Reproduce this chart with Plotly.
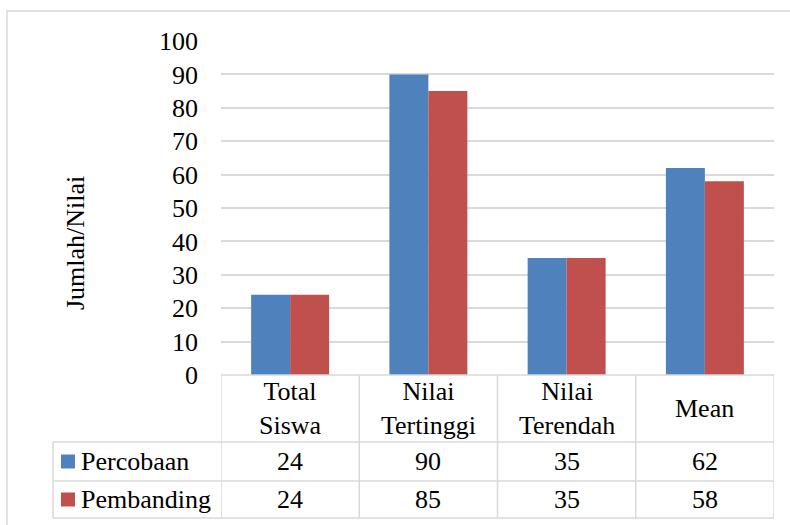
import plotly.graph_objects as go

categories = ["Total Siswa", "Nilai Tertinggi", "Nilai Terendah", "Mean"]
header_labels = ["Total<br>Siswa", "Nilai<br>Tertinggi", "Nilai<br>Terendah", "Mean"]
series_names = ["Percobaan", "Pembanding"]
percobaan = [24, 90, 35, 62]
pembanding = [24, 85, 35, 58]
y_ticks = [0, 10, 20, 30, 40, 50, 60, 70, 80, 90, 100]
colors = ["#4F81BD", "#C0504D"]

W, H = 790, 525
FONT = "Liberation Serif, Times New Roman, serif"
GRID = "#D9D9D9"

def px(p):
    return p / W

def py(p):
    return 1 - p / H

x_left, x_right = 221, 774
y_top, y_zero = 41, 375
row1_top, row2_top, table_bottom = 442, 481, 518
legend_left = 53

fig = go.Figure()
for name, vals, col in zip(series_names, [percobaan, pembanding], colors):
    fig.add_trace(go.Bar(x=categories, y=vals, name=name, marker_color=col,
                         marker_line_width=0, showlegend=False))

fig.update_layout(
    template="none",
    width=W, height=H,
    margin=dict(l=0, r=0, t=0, b=0, pad=0, autoexpand=False),
    paper_bgcolor="white", plot_bgcolor="white",
    barmode="group", bargap=0.436, bargroupgap=0,
    font=dict(family=FONT, size=26, color="black"),
    xaxis=dict(domain=[px(x_left), px(x_right)], range=[-0.5, 3.5],
               showticklabels=False, showgrid=False, zeroline=False,
               showline=False, fixedrange=True, automargin=False),
    yaxis=dict(domain=[py(y_zero), py(y_top)], range=[0, 100],
               tickvals=y_ticks, showgrid=True, gridcolor=GRID, gridwidth=1.5,
               zeroline=False, showline=False, ticks="", automargin=False,
               ticklabelstandoff=22,
               tickfont=dict(family=FONT, size=26, color="black")),
)

shapes = []
line = dict(color=GRID, width=1.5)
# outer chart border
shapes.append(dict(type="rect", xref="paper", yref="paper",
                   x0=px(7), x1=px(805), y0=py(540), y1=py(11),
                   line=dict(color=GRID, width=1.5), fillcolor="rgba(0,0,0,0)",
                   layer="below"))
# horizontal table lines
shapes.append(dict(type="line", xref="paper", yref="paper",
                   x0=px(x_left), x1=px(x_right), y0=py(y_zero), y1=py(y_zero), line=line))
for yy in [row1_top, row2_top, table_bottom]:
    shapes.append(dict(type="line", xref="paper", yref="paper",
                       x0=px(legend_left), x1=px(x_right), y0=py(yy), y1=py(yy), line=line))
# vertical table lines at category boundaries
for i in range(len(categories) + 1):
    shapes.append(dict(type="line", xref="x", yref="paper",
                       x0=i - 0.5, x1=i - 0.5, y0=py(y_zero), y1=py(table_bottom), line=line))
shapes.append(dict(type="line", xref="paper", yref="paper",
                   x0=px(legend_left), x1=px(legend_left), y0=py(row1_top), y1=py(table_bottom), line=line))

annotations = []
# header labels
for i, lab in enumerate(header_labels):
    annotations.append(dict(x=i, xref="x", y=py((y_zero + row1_top) / 2), yref="paper",
                            text=lab, showarrow=False, xanchor="center", yanchor="middle",
                            font=dict(family=FONT, size=26, color="black")))
# data rows
row_centers = [(row1_top + row2_top) / 2, (row2_top + table_bottom) / 2]
for r, (name, vals, col) in enumerate(zip(series_names, [percobaan, pembanding], colors)):
    yc = row_centers[r]
    shapes.append(dict(type="rect", xref="paper", yref="paper",
                       x0=px(61), x1=px(75), y0=py(yc + 7), y1=py(yc - 7),
                       fillcolor=col, line=dict(width=0)))
    annotations.append(dict(x=px(79), xref="paper", y=py(yc), yref="paper",
                            text=name, showarrow=False, xanchor="left", yanchor="middle",
                            font=dict(family=FONT, size=26, color="black")))
    for i, v in enumerate(vals):
        annotations.append(dict(x=i, xref="x", y=py(yc), yref="paper",
                                text=str(v), showarrow=False, xanchor="center", yanchor="middle",
                                font=dict(family=FONT, size=26, color="black")))
# y axis title
annotations.append(dict(x=px(75), xref="paper", y=py(243), yref="paper",
                        text="Jumlah/Nilai", textangle=-90, showarrow=False,
                        xanchor="center", yanchor="middle",
                        font=dict(family=FONT, size=26, color="black")))

fig.update_layout(shapes=shapes, annotations=annotations)
fig.write_html("out.html", config={"displayModeBar": False},
               post_script="document.body.style.margin='0';")
